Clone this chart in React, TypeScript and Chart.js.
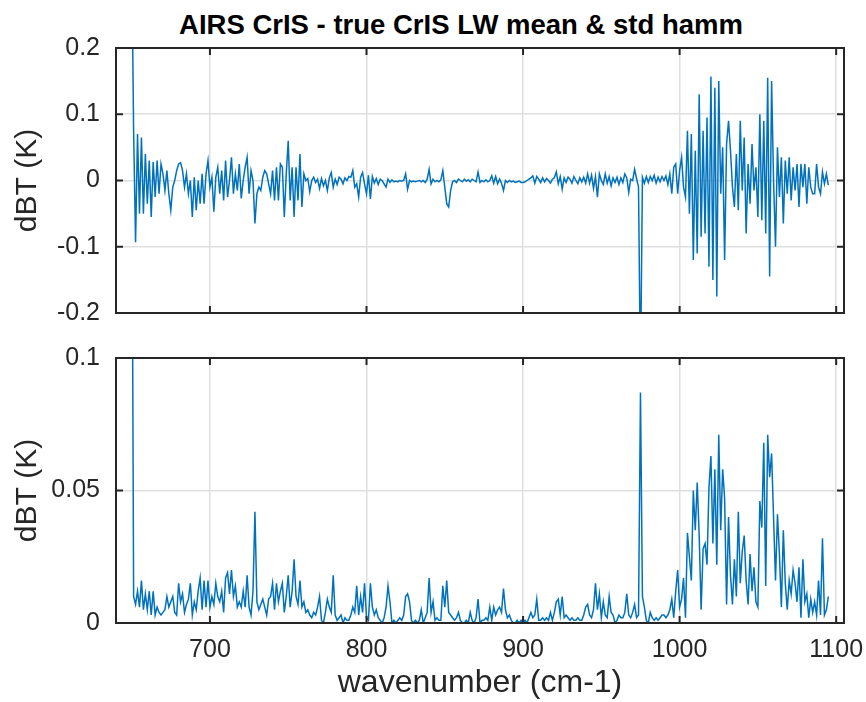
import React, { useEffect, useRef } from 'react';
import { Chart, registerables } from 'chart.js';

Chart.register(...registerables);

const TITLE = 'AIRS CrIS - true CrIS LW mean & std hamm';
const X_LABEL = 'wavenumber (cm-1)';
const Y_LABEL = 'dBT (K)';

const WN_START = 650;
const WN_STEP = 1.25;
const X_MIN = 640;
const X_MAX = 1105;
const X_TICKS = [700, 800, 900, 1000, 1100];
const X_TICK_LABELS = ['700', '800', '900', '1000', '1100'];

const MEAN_MIN = -0.2;
const MEAN_MAX = 0.2;
const MEAN_TICKS = [-0.2, -0.1, 0, 0.1, 0.2];
const MEAN_TICK_LABELS = ['-0.2', '-0.1', '0', '0.1', '0.2'];

const STD_MIN = 0;
const STD_MAX = 0.1;
const STD_TICKS = [0, 0.05, 0.1];
const STD_TICK_LABELS = ['0', '0.05', '0.1'];

// mean difference (K), one value every 1.25 cm-1 from 650 cm-1
const meanDiff = [
  // 650
  0.35, 0.075, -0.093, 0.07, -0.05, 0.065, -0.05, 0.04,
  // 660
  -0.035, 0.03, -0.055, 0.028, -0.025, 0.03, -0.02, 0.025,
  // 670
  0.01, -0.015, 0.015, -0.02, -0.045, -0.01, 0.0, 0.015,
  // 680
  0.025, 0.027, 0.015, -0.01, 0.01, -0.02, 0.0, -0.055,
  // 690
  0.005, -0.045, 0.0, -0.035, 0.01, -0.035, 0.01, 0.03,
  // 700
  -0.01, 0.005, -0.047, 0.005, 0.02, -0.02, 0.015, -0.03,
  // 710
  0.03, -0.025, 0.0, 0.035, -0.02, 0.01, -0.015, 0.025,
  // 720
  -0.027, 0.0, 0.02, 0.035, -0.02, 0.015, 0.0, -0.065,
  // 730
  -0.02, -0.01, -0.015, 0.005, 0.015, 0.01, -0.005, -0.02,
  // 740
  0.015, -0.03, 0.02, -0.03, 0.025, 0.02, -0.055, 0.01,
  // 750
  0.06, -0.03, 0.02, -0.055, 0.02, -0.03, 0.04, -0.04,
  // 760
  0.01, 0.0, 0.003, -0.017, 0.0, 0.005, -0.003, 0.002,
  // 770
  -0.012, 0.003, -0.008, 0.0, -0.015, 0.004, 0.012, -0.01,
  // 780
  0.002, -0.006, 0.005, 0.002, -0.005, 0.004, 0.0, 0.006,
  // 790
  0.005, 0.015, -0.01, -0.005, -0.025, 0.005, 0.012, -0.005,
  // 800
  -0.02, 0.008, -0.028, 0.006, -0.004, 0.003, -0.006, 0.002,
  // 810
  0.0, -0.005, -0.01, 0.002, -0.003, 0.001, -0.002, -0.001,
  // 820
  -0.002, 0.0, -0.001, 0.0, 0.01, -0.013, 0.0, -0.002,
  // 830
  -0.001, -0.002, -0.001, 0.0, -0.002, 0.0, -0.003, 0.002,
  // 840
  0.017, -0.005, 0.002, -0.002, 0.0, -0.002, 0.001, 0.015,
  // 850
  -0.01, -0.035, -0.04, -0.015, -0.002, 0.0, -0.003, 0.002,
  // 860
  0.0, -0.002, 0.002, -0.001, 0.001, -0.002, 0.002, 0.0,
  // 870
  -0.002, 0.013, -0.003, 0.0, -0.002, 0.001, -0.002, 0.0,
  // 880
  0.007, -0.004, 0.006, -0.005, 0.002, -0.004, -0.015, 0.0,
  // 890
  -0.003, 0.0, -0.002, -0.001, -0.003, -0.002, -0.001, -0.003,
  // 900
  -0.003, -0.002, 0.0, 0.002, 0.004, 0.007, -0.004, 0.006,
  // 910
  0.002, -0.003, 0.004, -0.002, 0.003, 0.0, -0.004, 0.002,
  // 920
  0.004, 0.013, -0.005, 0.006, -0.013, 0.004, -0.003, 0.005,
  // 930
  0.002, -0.004, 0.006, 0.0, -0.005, 0.004, -0.002, 0.005,
  // 940
  -0.004, 0.01, -0.004, 0.008, -0.012, 0.006, -0.025, 0.01,
  // 950
  0.0, -0.006, 0.01, -0.004, 0.006, -0.008, 0.004, -0.003,
  // 960
  0.005, -0.006, 0.004, -0.003, 0.01, 0.004, -0.018, 0.002,
  // 970
  0.0, 0.017, 0.003, -0.01, -0.3, 0.005, -0.004, 0.006,
  // 980
  -0.003, 0.006, 0.0, 0.008, -0.004, 0.005, -0.002, 0.006,
  // 990
  0.0, 0.007, -0.006, 0.01, -0.02, 0.02, 0.025, -0.02,
  // 1000
  0.015, 0.035, -0.01, -0.025, 0.075, -0.05, 0.07, -0.12,
  // 1010
  0.045, -0.11, 0.13, -0.085, 0.075, -0.08, 0.095, -0.13,
  // 1020
  0.157, -0.15, 0.14, -0.175, 0.15, -0.02, 0.05, -0.12,
  // 1030
  0.055, 0.09, 0.045, -0.01, -0.04, 0.04, -0.045, 0.09,
  // 1040
  -0.015, 0.065, -0.08, 0.025, -0.035, 0.055, -0.015, 0.02,
  // 1050
  -0.055, 0.1, -0.06, 0.09, -0.08, 0.155, -0.145, 0.15,
  // 1060
  0.0, -0.1, 0.05, -0.025, 0.035, -0.065, 0.03, -0.02,
  // 1070
  0.035, -0.03, 0.02, -0.015, 0.025, -0.04, 0.025, -0.01,
  // 1080
  0.025, -0.035, 0.02, -0.01, -0.02, -0.02, 0.025, -0.01,
  // 1090
  -0.02, 0.013, -0.005, 0.01, -0.007,
];

// standard deviation of the difference (K), same channels
const stdDiff = [
  // 650
  0.2, 0.01, 0.007, 0.012, 0.006, 0.016, 0.005, 0.011,
  // 660
  0.005, 0.012, 0.003, 0.012, 0.003, 0.006, 0.004, 0.003,
  // 670
  0.004, 0.005, 0.01, 0.006, 0.008, 0.01, 0.004, 0.003,
  // 680
  0.015, 0.008, 0.011, 0.004, 0.007, 0.009, 0.015, 0.003,
  // 690
  0.008, 0.005, 0.012, 0.017, 0.005, 0.016, 0.006, 0.016,
  // 700
  0.006, 0.01, 0.007, 0.015, 0.01, 0.008, 0.012, 0.004,
  // 710
  0.017, 0.019, 0.011, 0.02, 0.01, 0.014, 0.006, 0.008,
  // 720
  0.006, 0.012, 0.006, 0.018, 0.006, 0.003, 0.012, 0.042,
  // 730
  0.008, 0.005, 0.007, 0.009, 0.006, 0.003, 0.009, 0.01,
  // 740
  0.015, 0.005, 0.015, 0.008, 0.012, 0.015, 0.004, 0.01,
  // 750
  0.018, 0.006, 0.012, 0.024, 0.01, 0.007, 0.016, 0.006,
  // 760
  0.008, 0.004, 0.005, 0.003, 0.002, 0.004, 0.003, 0.006,
  // 770
  0.01, 0.001, 0.0, 0.004, 0.009, 0.006, 0.004, 0.018,
  // 780
  0.003, 0.001, 0.002, 0.003, 0.0, 0.002, 0.001, 0.001,
  // 790
  0.003, 0.006, 0.004, 0.014, 0.003, 0.01, 0.004, 0.015,
  // 800
  0.002, 0.001, 0.015, 0.006, 0.003, 0.005, 0.002, 0.001,
  // 810
  0.0, 0.002, 0.006, 0.014, 0.008, 0.0, 0.001, 0.0,
  // 820
  0.001, 0.002, 0.001, 0.003, 0.01, 0.011, 0.008, 0.001,
  // 830
  0.0, 0.001, 0.0, 0.001, 0.005, 0.0, 0.002, 0.004,
  // 840
  0.017, 0.004, 0.008, 0.001, 0.002, 0.001, 0.001, 0.014,
  // 850
  0.006, 0.016, 0.004, 0.003, 0.002, 0.001, 0.002, 0.004,
  // 860
  0.001, 0.0, 0.0, 0.001, 0.0, 0.004, 0.001, 0.0,
  // 870
  0.002, 0.009, 0.0, 0.001, 0.001, 0.002, 0.001, 0.006,
  // 880
  0.001, 0.006, 0.003, 0.005, 0.006, 0.004, 0.013, 0.005,
  // 890
  0.002, 0.003, 0.001, 0.0, 0.0, 0.001, 0.0, 0.001,
  // 900
  0.0, 0.001, 0.0, 0.002, 0.004, 0.002, 0.003, 0.009,
  // 910
  0.001, 0.001, 0.002, 0.001, 0.002, 0.001, 0.004, 0.001,
  // 920
  0.004, 0.008, 0.009, 0.003, 0.01, 0.002, 0.003, 0.002,
  // 930
  0.001, 0.002, 0.001, 0.001, 0.002, 0.001, 0.001, 0.003,
  // 940
  0.006, 0.007, 0.003, 0.002, 0.005, 0.015, 0.005, 0.011,
  // 950
  0.002, 0.008, 0.003, 0.002, 0.01, 0.004, 0.003, 0.0,
  // 960
  0.001, 0.003, 0.002, 0.002, 0.004, 0.011, 0.003, 0.002,
  // 970
  0.004, 0.007, 0.002, 0.003, 0.087, 0.01, 0.006, 0.001,
  // 980
  0.0, 0.004, 0.002, 0.001, 0.002, 0.001, 0.002, 0.003,
  // 990
  0.003, 0.002, 0.003, 0.005, 0.009, 0.002, 0.012, 0.02,
  // 1000
  0.006, 0.009, 0.017, 0.002, 0.034, 0.025, 0.016, 0.05,
  // 1010
  0.035, 0.053, 0.033, 0.005, 0.028, 0.03, 0.022, 0.051,
  // 1020
  0.063, 0.03, 0.058, 0.022, 0.071, 0.035, 0.058, 0.047,
  // 1030
  0.007, 0.04, 0.018, 0.007, 0.024, 0.01, 0.042, 0.015,
  // 1040
  0.027, 0.033, 0.016, 0.007, 0.026, 0.012, 0.021, 0.008,
  // 1050
  0.006, 0.046, 0.036, 0.068, 0.014, 0.071, 0.055, 0.064,
  // 1060
  0.04, 0.016, 0.041, 0.026, 0.006, 0.035, 0.015, 0.005,
  // 1070
  0.016, 0.011, 0.02, 0.015, 0.008, 0.021, 0.002, 0.024,
  // 1080
  0.008, 0.011, 0.002, 0.009, 0.004, 0.008, 0.003, 0.016,
  // 1090
  0.003, 0.032, 0.003, 0.005, 0.01,
];

const FONT = '"Liberation Sans", Arial, Helvetica, sans-serif';
const LINE_COLOR = '#0072BD';
const AXIS_COLOR = '#262626';
const GRID_COLOR = '#dfdfdf';
const TICK_LEN = 7;
const W = 866;
const AXIS_LEFT = 116;
const RIGHT_PAD = 22;

const toPoints = (vals: number[]) =>
  vals.map((v, i) => ({ x: WN_START + i * WN_STEP, y: v }));

const labelFor = (value: number, ticks: number[], labels: string[]) => {
  const idx = ticks.findIndex((t) => Math.abs(t - value) < 1e-9);
  return idx >= 0 ? labels[idx] : '';
};

const boxPlugin = {
  id: 'matlabBox',
  afterDatasetsDraw(chart: any) {
    const { ctx, chartArea: a, scales } = chart;
    ctx.save();
    ctx.strokeStyle = AXIS_COLOR;
    ctx.lineWidth = 2;
    ctx.strokeRect(a.left, a.top, a.right - a.left, a.bottom - a.top);
    ctx.beginPath();
    for (const t of scales.x.ticks) {
      const px = scales.x.getPixelForValue(t.value);
      ctx.moveTo(px, a.bottom);
      ctx.lineTo(px, a.bottom - TICK_LEN);
      ctx.moveTo(px, a.top);
      ctx.lineTo(px, a.top + TICK_LEN);
    }
    for (const t of scales.y.ticks) {
      const py = scales.y.getPixelForValue(t.value);
      ctx.moveTo(a.left, py);
      ctx.lineTo(a.left + TICK_LEN, py);
      ctx.moveTo(a.right, py);
      ctx.lineTo(a.right - TICK_LEN, py);
    }
    ctx.stroke();
    ctx.restore();
  },
};

function makeConfig(opts: {
  values: number[];
  yMin: number;
  yMax: number;
  yTicks: number[];
  yLabels: string[];
  padTop: number;
  xAxisHeight: number;
  showX: boolean;
}): any {
  return {
    type: 'line',
    data: {
      datasets: [
        {
          data: toPoints(opts.values),
          borderColor: LINE_COLOR,
          borderWidth: 1.5,
          pointRadius: 0,
          tension: 0,
          fill: false,
        },
      ],
    },
    options: {
      animation: false,
      responsive: false,
      maintainAspectRatio: false,
      layout: { padding: { left: 0, right: RIGHT_PAD, top: opts.padTop, bottom: 0 } },
      plugins: {
        legend: { display: false },
        tooltip: { enabled: false },
        title: { display: false },
      },
      scales: {
        x: {
          type: 'linear',
          min: X_MIN,
          max: X_MAX,
          afterBuildTicks: (axis: any) => {
            axis.ticks = X_TICKS.map((v) => ({ value: v }));
          },
          afterFit: (axis: any) => {
            axis.height = opts.xAxisHeight;
            axis.paddingLeft = 0;
            axis.paddingRight = 0;
            axis.paddingTop = 0;
            axis.paddingBottom = 0;
          },
          grid: { color: GRID_COLOR, lineWidth: 1.5, drawTicks: false },
          border: { display: false },
          ticks: {
            display: opts.showX,
            padding: 12,
            color: AXIS_COLOR,
            font: { family: FONT, size: 25 },
            maxRotation: 0,
            autoSkip: false,
            callback: (v: number) => labelFor(v, X_TICKS, X_TICK_LABELS),
          },
          title: {
            display: opts.showX,
            text: X_LABEL,
            color: AXIS_COLOR,
            font: { family: FONT, size: 32 },
            padding: { top: 0, bottom: 0 },
          },
        },
        y: {
          type: 'linear',
          min: opts.yMin,
          max: opts.yMax,
          afterBuildTicks: (axis: any) => {
            axis.ticks = opts.yTicks.map((v) => ({ value: v }));
          },
          afterFit: (axis: any) => {
            axis.width = AXIS_LEFT;
            axis.paddingLeft = 0;
            axis.paddingRight = 0;
            axis.paddingTop = 0;
            axis.paddingBottom = 0;
          },
          grid: { color: GRID_COLOR, lineWidth: 1.5, drawTicks: false },
          border: { display: false },
          ticks: {
            padding: 16,
            color: AXIS_COLOR,
            font: { family: FONT, size: 25 },
            autoSkip: false,
            callback: (v: number) => labelFor(v, opts.yTicks, opts.yLabels),
          },
          title: {
            display: true,
            text: Y_LABEL,
            color: AXIS_COLOR,
            font: { family: FONT, size: 30 },
            padding: { top: 10, bottom: 0 },
          },
        },
      },
    },
    plugins: [boxPlugin],
  };
}

export default function App() {
  const topRef = useRef<HTMLCanvasElement | null>(null);
  const botRef = useRef<HTMLCanvasElement | null>(null);

  useEffect(() => {
    if (!topRef.current || !botRef.current) return;
    const top = new Chart(
      topRef.current,
      makeConfig({
        values: meanDiff,
        yMin: MEAN_MIN,
        yMax: MEAN_MAX,
        yTicks: MEAN_TICKS,
        yLabels: MEAN_TICK_LABELS,
        padTop: 48,
        xAxisHeight: 27,
        showX: false,
      })
    );
    const bot = new Chart(
      botRef.current,
      makeConfig({
        values: stdDiff,
        yMin: STD_MIN,
        yMax: STD_MAX,
        yTicks: STD_TICKS,
        yLabels: STD_TICK_LABELS,
        padTop: 18,
        xAxisHeight: 79,
        showX: true,
      })
    );
    return () => {
      top.destroy();
      bot.destroy();
    };
  }, []);

  return (
    <div
      style={{
        position: 'absolute',
        left: 0,
        top: 0,
        width: W,
        height: 702,
        background: '#ffffff',
        overflow: 'hidden',
      }}
    >
      <div
        style={{
          position: 'absolute',
          left: 461,
          top: 8,
          transform: 'translateX(-50%)',
          whiteSpace: 'nowrap',
          fontFamily: FONT,
          fontWeight: 'bold',
          fontSize: '27.5px',
          lineHeight: '33px',
          color: '#000000',
        }}
      >
        {TITLE}
      </div>
      <canvas
        ref={topRef}
        width={W}
        height={340}
        style={{ position: 'absolute', left: 0, top: 0, width: W, height: 340 }}
      />
      <canvas
        ref={botRef}
        width={W}
        height={362}
        style={{ position: 'absolute', left: 0, top: 340, width: W, height: 362 }}
      />
    </div>
  );
}
